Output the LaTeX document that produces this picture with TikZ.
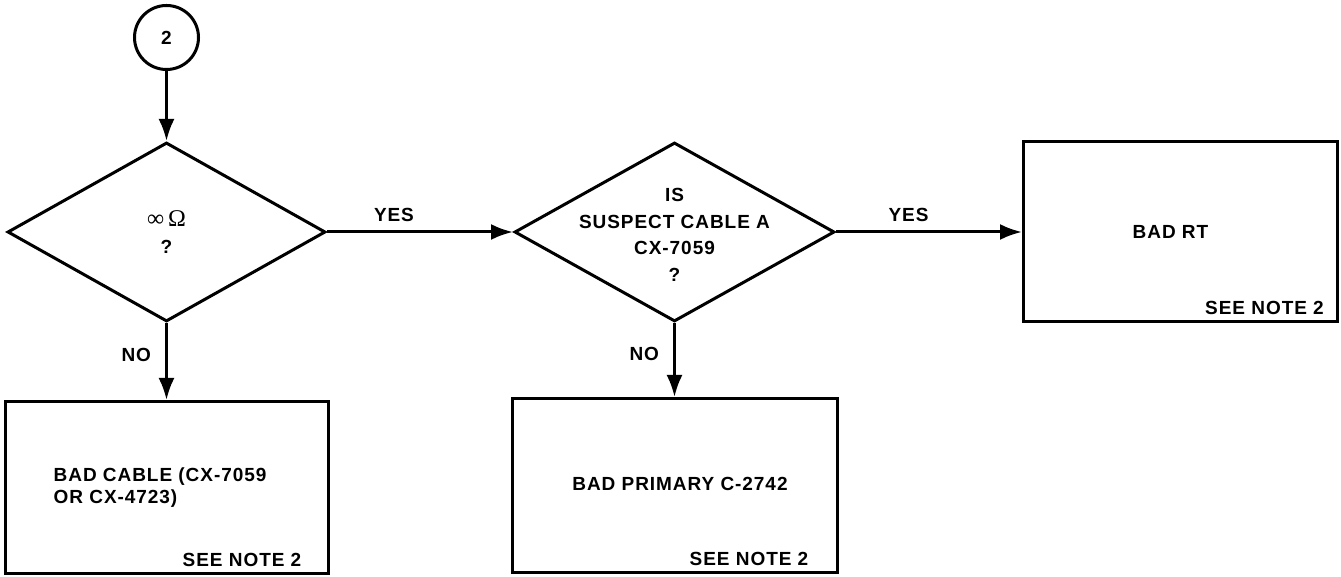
\documentclass[tikz,border=0pt]{standalone}
\usepackage{fontspec}
\setmainfont{Liberation Sans}[LetterSpace=5]
\newfontfamily\ohmfont{Liberation Serif}
\usetikzlibrary{shapes.geometric, arrows.meta, positioning}

\tikzset{
	decision/.style={diamond, draw, line width=3pt, minimum width=318pt, minimum height=179pt, inner sep=0pt},
	outcome/.style={rectangle, draw, line width=3pt, inner sep=0pt},
	offpage/.style={circle, draw, line width=3pt, minimum size=64pt, inner sep=0pt},
	txt/.style={inner sep=0pt, align=center},
	flow/.style={->, line width=3pt},
}

\begin{document}
\begin{tikzpicture}[x=1pt, y=1pt, >={Latex[length=22pt,width=16pt]},
	every node/.append style={font=\fontsize{19}{26.5}\selectfont\bfseries}]

	\useasboundingbox (0,0) rectangle (1341,577);

	\node[decision] (d1) at (166.5,345) {};
	\node[offpage, above=70pt of d1] (c2) {2};
	\node[decision, minimum width=320pt, right=186pt of d1] (d2) {};
	\node[outcome, minimum width=323pt, minimum height=172pt, below=77pt of d1] (b1) {};
	\node[outcome, minimum width=314pt, minimum height=180pt, right=186pt of d2] (b3) {};
	\node[outcome, minimum width=325pt, minimum height=174pt, below=74pt of d2] (b2) {};

	% texts
	\node[txt] (d1txt) at (d1) {{\ohmfont\mdseries\fontsize{24}{26.5}\selectfont ∞\,Ω}\\?};
	\node[txt, yshift=-3pt] (d2txt) at (d2) {IS\\SUSPECT CABLE A\\CX-7059\\?};
	\node[txt, align=left, right=50pt of b1.west, font=\fontsize{19}{21.5}\selectfont\bfseries] (b1txt) {BAD CABLE (CX-7059\\OR CX-4723)};
	\node[txt, xshift=5.5pt, yshift=2pt] (b2txt) at (b2) {BAD PRIMARY C-2742};
	\node[txt, xshift=-10pt] (b3txt) at (b3) {BAD RT};
	\node[txt, above left=8pt and 28pt of b1.south east] (b1note) {SEE NOTE 2};
	\node[txt, above left=8pt and 30pt of b2.south east] (b2note) {SEE NOTE 2};
	\node[txt, above left=9pt and 15pt of b3.south east] (b3note) {SEE NOTE 2};

	\draw[flow] (c2) -- (d1.north);
	\draw[flow] (d1.east) -- (d2.west) node[txt, pos=.36, above=9pt] (yes1) {YES};
	\draw[flow] (d2.east) -- (b3.west) node[txt, pos=.39, above=9pt] (yes2) {YES};
	\draw[flow] (d1.south) -- (b1.north) node[txt, pos=.42, left=14pt] (no1) {NO};
	\draw[flow] (d2.south) -- (d2.south |- b2.north) node[txt, pos=.42, left=14pt] (no2) {NO};

\end{tikzpicture}
\end{document}
